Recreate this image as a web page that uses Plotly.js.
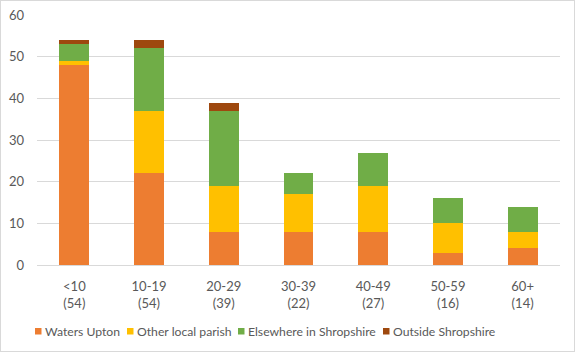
<!DOCTYPE html>
<html>
<head>
<meta charset="utf-8">
<script src="https://cdn.plot.ly/plotly-3.0.1.min.js"></script>
<style>
html,body{margin:0;padding:0;background:#fff;}
#chart{width:573px;height:350px;border:1px solid #d9d9d9;}
</style>
</head>
<body>
<div id="chart"></div>
<script>
const categories = ["<10<br>(54)", "10-19<br>(54)", "20-29<br>(39)", "30-39<br>(22)", "40-49<br>(27)", "50-59<br>(16)", "60+<br>(14)"];
const watersUpton = [48, 22, 8, 8, 8, 3, 4];
const otherLocalParish = [1, 15, 11, 9, 11, 7, 4];
const elsewhereShropshire = [4, 15, 18, 5, 8, 6, 6];
const outsideShropshire = [1, 2, 2, 0, 0, 0, 0];
const yTicks = [0, 10, 20, 30, 40, 50, 60];

const seriesNames = ["Waters Upton", "Other local parish", "Elsewhere in Shropshire", "Outside Shropshire"];
const seriesColors = ["#ED7D31", "#FFC000", "#70AD47", "#9E480E"];
const seriesData = [watersUpton, otherLocalParish, elsewhereShropshire, outsideShropshire];

// layout constants (pixels, page coordinates)
const plotLeft = 37, plotW = 523, plotBottom = 265, plotH = 250;
const legendSwatchPx = [35, 127, 238, 383];
const legendCenterY = 331;

const traces = seriesData.map((vals, i) => ({
  type: "bar",
  name: seriesNames[i],
  x: categories,
  y: vals,
  marker: {color: seriesColors[i]},
  hoverinfo: "skip"
}));

const toPX = px => (px - plotLeft) / plotW;
const toPY = py => (plotBottom - py) / plotH;

const shapes = [];
const annotations = [];
seriesNames.forEach((name, i) => {
  const sx = legendSwatchPx[i];
  shapes.push({
    type: "rect", xref: "paper", yref: "paper",
    x0: toPX(sx), x1: toPX(sx + 6.5),
    y0: toPY(legendCenterY + 3.5), y1: toPY(legendCenterY - 3),
    fillcolor: seriesColors[i], line: {width: 0}
  });
  annotations.push({
    xref: "paper", yref: "paper",
    x: toPX(sx + 8), y: toPY(legendCenterY),
    xanchor: "left", yanchor: "middle",
    text: name, showarrow: false,
    font: {size: 12.2, color: "#595959"}
  });
});

const layout = {
  width: 573,
  height: 350,
  barmode: "stack",
  bargap: 0.6,
  margin: {l: 36, r: 14, t: 14, b: 86},
  paper_bgcolor: "#fff",
  plot_bgcolor: "#fff",
  font: {family: "Lato, sans-serif", size: 13, color: "#595959"},
  xaxis: {
    tickfont: {size: 13, color: "#595959"},
    showgrid: false,
    showline: false,
    ticks: "",
    ticklabelstandoff: 12,
    automargin: false,
    fixedrange: true
  },
  yaxis: {
    range: [0, 60],
    tickvals: yTicks,
    showgrid: true,
    gridcolor: "#d9d9d9",
    gridwidth: 1,
    zeroline: true,
    zerolinecolor: "#d9d9d9",
    zerolinewidth: 1,
    ticks: "",
    ticklabelstandoff: 12,
    automargin: false,
    tickfont: {size: 13, color: "#595959"},
    fixedrange: true
  },
  showlegend: false,
  shapes: shapes,
  annotations: annotations
};

Plotly.newPlot("chart", traces, layout, {displayModeBar: false, staticPlot: true});
</script>
</body>
</html>
